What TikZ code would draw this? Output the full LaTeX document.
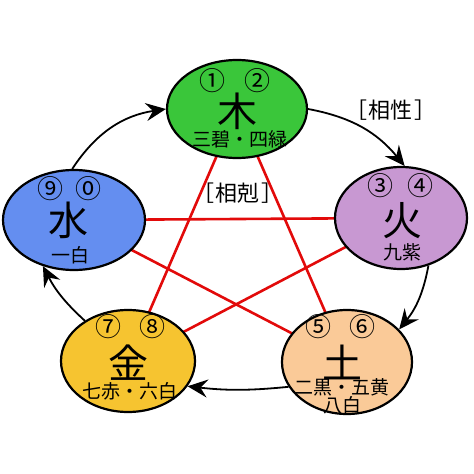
\documentclass[tikz,border=0pt]{standalone}
\usepackage{fontspec}
\setmainfont{Noto Sans CJK JP}
\usetikzlibrary{shapes.geometric,arrows.meta,backgrounds}

\definecolor{mucol}{RGB}{58,198,58}
\definecolor{huocol}{RGB}{200,152,210}
\definecolor{tucol}{RGB}{250,202,152}
\definecolor{jincol}{RGB}{246,196,48}
\definecolor{shuicol}{RGB}{100,142,240}
\definecolor{kecol}{RGB}{226,10,10}

\begin{document}
\begin{tikzpicture}[x=1pt,y=-1pt,
    elem/.style={ellipse,draw,line width=2.2pt,inner sep=0pt},
    big/.style={inner sep=0pt,font=\fontsize{40}{40}\selectfont},
    num/.style={inner sep=0pt,font=\fontsize{26}{26}\selectfont},
    small/.style={inner sep=0pt,font=\fontsize{19}{19}\selectfont},
    tag/.style={inner sep=0pt,font=\fontsize{22}{22}\selectfont},
    flow/.style={-{Stealth[length=20pt,width=18pt,inset=7pt]},line width=1.8pt},
    ke/.style={kecol,line width=2.6pt}]
  \useasboundingbox (0,0) rectangle (474,474);
  % the five elements
  \node[elem,fill=mucol,minimum width=140,minimum height=98] (mu) at (237,109) {};
  \node[elem,fill=huocol,minimum width=132,minimum height=102] (huo) at (401,218) {};
  \node[elem,fill=tucol,minimum width=130,minimum height=104] (tu) at (347,362) {};
  \node[elem,fill=jincol,minimum width=134,minimum height=102] (jin) at (128,361) {};
  \node[elem,fill=shuicol,minimum width=142,minimum height=100] (shui) at (74,220) {};
  % texts
  \node[num] (mu1) at ([shift={(-25,-28)}]mu.center) {①};
  \node[num] (mu2) at ([shift={(20,-28)}]mu.center) {②};
  \node[big] (mut) at ([shift={(0,2)}]mu.center) {木};
  \node[small] (mus) at ([shift={(3,30)}]mu.center) {三碧・四緑};
  \node[num] (huo1) at ([shift={(-21,-32)}]huo.center) {③};
  \node[num] (huo2) at ([shift={(19,-32)}]huo.center) {④};
  \node[big] (huot) at ([shift={(1,3)}]huo.center) {火};
  \node[small] (huos) at ([shift={(1,34)}]huo.center) {九紫};
  \node[num] (tu1) at ([shift={(-29,-35)}]tu.center) {⑤};
  \node[num] (tu2) at ([shift={(15,-35)}]tu.center) {⑥};
  \node[big] (tut) at ([shift={(-5,0)}]tu.center) {土};
  \node[small] (tus) at ([shift={(-5,25)}]tu.center) {二黒・五黄};
  \node[small] (tus2) at ([shift={(-5,43)}]tu.center) {八白};
  \node[num] (jin1) at ([shift={(-20,-34)}]jin.center) {⑦};
  \node[num] (jin2) at ([shift={(24,-34)}]jin.center) {⑧};
  \node[big] (jint) at ([shift={(0,2)}]jin.center) {金};
  \node[small] (jins) at ([shift={(2,30)}]jin.center) {七赤・六白};
  \node[num] (shui1) at ([shift={(-24,-31)}]shui.center) {⑨};
  \node[num] (shui2) at ([shift={(14,-31)}]shui.center) {⓪};
  \node[big] (shuit) at ([shift={(-6,0)}]shui.center) {水};
  \node[small] (shuis) at ([shift={(-4,35)}]shui.center) {一白};
  \node[tag] (sheng) at (391,110) {［\hspace{2pt}相性\hspace{2pt}］};
  \node[tag] (ke) at (238,193) {［\hspace{2pt}相剋\hspace{2pt}］};
  % generating cycle
  \draw[flow] (shui.92) to[bend left=24] (mu.180);
  \draw[flow] (mu.0) to[bend left=20] (huo.86);
  \draw[flow] (huo.300) to[bend left=14] (tu.32);
  \draw[flow] (tu.203) to[bend left=6] (jin.337);
  \draw[flow] (jin.137) to[bend left=10] (shui.236);
  % overcoming star
  \begin{scope}[on background layer]
    \draw[ke] (mu.center) -- (jin.center);
    \draw[ke] (mu.center) -- (tu.center);
    \draw[ke] (shui.center) -- (huo.center);
    \draw[ke] (shui.center) -- (tu.center);
    \draw[ke] (huo.center) -- (jin.center);
  \end{scope}
\end{tikzpicture}
\end{document}
